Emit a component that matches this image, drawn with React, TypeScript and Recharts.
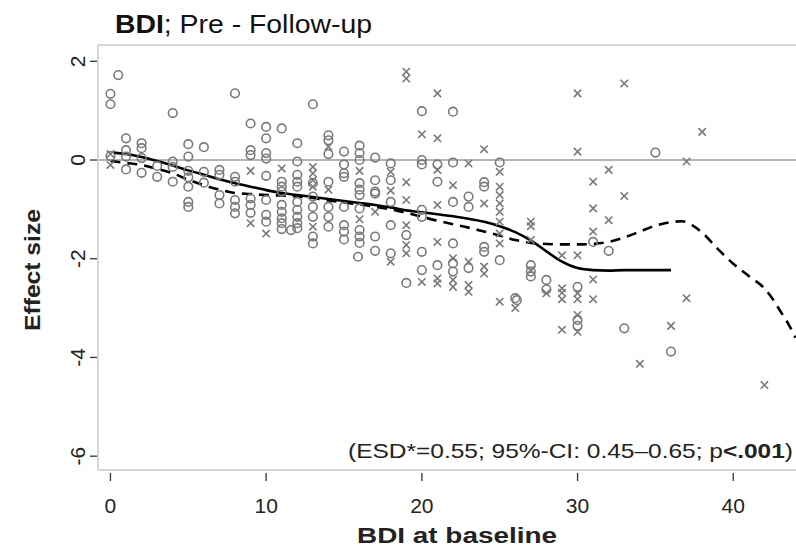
import React from 'react';
import { ComposedChart, XAxis, YAxis, Scatter, Line, ReferenceLine } from 'recharts';

const FONT = '"Liberation Sans", Arial, sans-serif';

const xTicks = [0, 10, 20, 30, 40];
const yTicks = [-6, -4, -2, 0, 2];
const xDomain: [number, number] = [-0.8, 44.03];
const yDomain: [number, number] = [-6.28, 2.33];

const circlePairs: [number, number][] = [
  [0, 1.34], [0, 1.13], [0, 0.08], [0.5, 1.72],
  [1, 0.44], [1, 0.2], [1, 0.07], [1, -0.19],
  [2, 0.34], [2, 0.24], [2, 0.04], [2, -0.26],
  [3, -0.34], [3, -0.12],
  [4, 0.95], [4, -0.03], [4, -0.14], [4, -0.44],
  [5, 0.32], [5, 0.07], [5, -0.22], [5, -0.35], [5, -0.54], [5, -0.85], [5, -0.95],
  [6, 0.26], [6, -0.24], [6, -0.46],
  [7, -0.2], [7, -0.3], [7, -0.71], [7, -0.88],
  [8, 1.35], [8, -0.34], [8, -0.44], [8, -0.81], [8, -0.95], [8, -1.08],
  [9, 0.74], [9, 0.2], [9, 0.1], [9, -0.78], [9, -0.91], [9, -1.07],
  [10, 0.67], [10, 0.44], [10, 0.14], [10, 0.03], [10, -0.32], [10, -0.81], [10, -1.11], [10, -1.25],
  [11, 0.64], [11, -0.44], [11, -0.54], [11, -0.64], [11, -0.91], [11, -1.05], [11, -1.18], [11, -1.28], [11, -1.4], [11.6, -1.42],
  [12, 0.34], [12, -0.03], [12, -0.3], [12, -0.44], [12, -0.54], [12, -0.85], [12, -1.01], [12, -1.15], [12, -1.28], [12, -1.38],
  [13, 1.13], [13, -0.47], [13, -0.74], [13, -0.95], [13, -1.15], [13, -1.55], [13, -1.69],
  [14, 0.5], [14, 0.4], [14, 0.12], [14, -0.44], [14, -0.95], [14, -1.15], [14, -1.35],
  [15, 0.17], [15, -0.09], [15, -0.27], [15, -0.34], [15, -0.95], [15, -1.32], [15, -1.45], [15, -1.61], [15.9, -1.96],
  [16, 0.29], [16, 0.14], [16, 0], [16, -0.47], [16, -0.6], [16, -0.71], [16, -0.98], [16, -1.42], [16, -1.55], [16, -1.68],
  [17, 0.05], [17, -0.41], [17, -0.64], [17, -0.68], [17, -1.55], [17, -1.84],
  [18, -0.07], [18, -0.41], [18, -0.85], [18, -1.32], [18, -1.89],
  [19, -1.52], [19, -2.49],
  [20, 0.99], [20, 0], [20, -0.09], [20, -1.01], [20, -1.15], [20, -1.86], [20, -2.23],
  [21, -0.09], [21, -0.44], [21, -2.13],
  [22, 0.98], [22, -0.05], [22, -0.85], [22, -1.69], [22, -2.09], [22, -2.26],
  [23, -0.74], [23, -0.95], [23, -2.19],
  [24, -0.45], [24, -0.54], [24, -1.76], [24, -1.86],
  [25, -0.05], [25, -2.03],
  [26, -2.8], [26.1, -2.84],
  [27, -2.13], [27, -2.26], [27, -2.36],
  [28, -2.43], [28, -2.62],
  [30, -2.57], [30, -3.24], [30, -3.36],
  [31, -1.66], [32, -1.84], [33, -3.41], [35, 0.15], [36, -3.88],
];

const crossPairs: [number, number][] = [
  [0, 0.12], [0, -0.1],
  [9, -0.22], [9, -1.28],
  [10, -1.49],
  [11, -0.17],
  [13, -0.14], [13, -0.27], [13, -0.41], [13, -0.54], [13, -1.35],
  [14, 0.27], [14, -0.6],
  [16, -0.22], [16, -1.2],
  [17, -1.05],
  [18, -0.24], [18, -0.62], [18, -2.06],
  [19, 1.79], [19, 1.65], [19, -0.45], [19, -0.81], [19, -1.32], [19, -1.72], [19, -1.89],
  [20, 0.52], [20, -2.47],
  [21, 1.35], [21, 0.44], [21, -0.2], [21, -0.91], [21, -1.66], [21, -2.4], [21, -2.5],
  [22, -0.51], [22, -1.99], [22, -2.43], [22, -2.57],
  [23, -0.07], [23, -2.06], [23, -2.53], [23, -2.67],
  [24, 0.22], [24, -0.88], [24, -2.16], [24, -2.3],
  [25, -0.24], [25, -0.54], [25, -0.71], [25, -0.88], [25, -1.05], [25, -1.25], [25, -1.49], [25, -1.69], [25, -2.87],
  [26, -3.0],
  [27, -1.25], [27, -1.34], [27, -1.62], [27, -2.23],
  [28, -2.7],
  [29, -1.93], [29, -2.6], [29, -2.69], [29, -2.82], [29, -3.44],
  [30, 1.35], [30, 0.17], [30, -1.93], [30, -2.7], [30, -2.82], [30, -3.14], [30, -3.48],
  [31, -0.44], [31, -0.98], [31, -1.45], [31, -2.42], [31, -2.82],
  [32, -0.2], [32, -1.22],
  [33, 1.55], [33, -0.73],
  [34, -4.13],
  [36, -3.36],
  [37, -0.03], [37, -2.8],
  [38, 0.57],
  [42, -4.56],
];

const solidPairs: [number, number][] = [
  [0.2, 0.15], [1, 0.12], [2, 0.06], [3, -0.02], [4, -0.11], [5, -0.21], [6, -0.3], [7, -0.39], [8, -0.47],
  [9, -0.54], [10, -0.61], [11, -0.67], [12, -0.71], [13, -0.75], [14, -0.79], [15, -0.83], [16, -0.87],
  [17, -0.91], [18, -0.96], [19, -1.02], [20, -1.06], [21, -1.1], [22, -1.14], [23, -1.19], [24, -1.25],
  [25, -1.34], [26, -1.46], [27, -1.63], [28, -1.85], [29, -2.06], [30, -2.19], [31, -2.23], [32, -2.24],
  [33, -2.23], [34, -2.23], [35, -2.23], [36, -2.23],
];

const dashedPairs: [number, number][] = [
  [0, -0.02], [1, -0.06], [2, -0.1], [3, -0.18], [4, -0.27], [5, -0.4], [6, -0.51], [7, -0.6], [8, -0.67],
  [9, -0.69], [10, -0.71], [11, -0.72], [12, -0.74], [13, -0.77], [14, -0.82], [15, -0.86], [16, -0.9],
  [17, -0.95], [18, -1.0], [19, -1.07], [20, -1.15], [21, -1.23], [22, -1.3], [23, -1.37], [24, -1.45],
  [25, -1.53], [26, -1.62], [27, -1.68], [28, -1.7], [29, -1.71], [30, -1.71], [31, -1.7], [32, -1.66],
  [33, -1.57], [34, -1.45], [35, -1.33], [36, -1.26], [36.7, -1.24], [37.4, -1.33], [38, -1.47], [39, -1.8],
  [40, -2.1], [41, -2.35], [42, -2.6], [42.5, -2.8], [43, -3.05], [43.5, -3.3], [44, -3.6],
];

const toXY = (pairs: [number, number][]) => pairs.map(([x, y]) => ({ x, y }));
const circles = toXY(circlePairs);
const crosses = toXY(crossPairs);
const solid = toXY(solidPairs);
const dashed = toXY(dashedPairs);

const MARK = '#7a7a7a';

const CircleShape = (p: any) => (
  <circle cx={p.cx} cy={p.cy} r={4.3} fill="none" stroke={MARK} strokeWidth={1.6} />
);
const CrossShape = (p: any) => {
  const s = 3.7;
  return (
    <path
      d={`M${p.cx - s},${p.cy - s}L${p.cx + s},${p.cy + s}M${p.cx - s},${p.cy + s}L${p.cx + s},${p.cy - s}`}
      stroke={MARK}
      strokeWidth={1.6}
      fill="none"
    />
  );
};

const XTick = (props: any) => {
  const { x, y, payload } = props;
  return (
    <g>
      <line x1={x} x2={x} y1={y + 3} y2={y + 11} stroke="#333" strokeWidth={1.3} />
      <text x={x} y={y + 43} textAnchor="middle" fontSize={21} fill="#222" fontFamily={FONT}>
        {payload.value}
      </text>
    </g>
  );
};

const YTick = (props: any) => {
  const { x, y, payload } = props;
  const tx = x - 13;
  return (
    <g>
      <line x1={x - 8} x2={x - 1} y1={y} y2={y} stroke="#333" strokeWidth={1.3} />
      <text
        x={tx}
        y={y}
        transform={`rotate(-90 ${tx} ${y})`}
        textAnchor="middle"
        fontSize={21}
        fill="#222"
        fontFamily={FONT}
      >
        {payload.value}
      </text>
    </g>
  );
};

export default function App() {
  return (
    <div style={{ position: 'absolute', left: 0, top: 0, width: 796, height: 548, background: '#fff' }}>
      <ComposedChart width={796} height={548} margin={{ top: 45, right: 0, bottom: 0, left: 0 }}>
        <XAxis
          type="number"
          dataKey="x"
          domain={xDomain}
          ticks={xTicks}
          interval={0}
          allowDataOverflow
          height={78}
          axisLine={{ stroke: '#c8c8c8', strokeWidth: 1.5 }}
          tickLine={false}
          tickSize={0}
          tickMargin={0}
          tick={<XTick />}
        />
        <YAxis
          type="number"
          dataKey="y"
          domain={yDomain}
          ticks={yTicks}
          interval={0}
          allowDataOverflow
          width={98}
          axisLine={{ stroke: '#c8c8c8', strokeWidth: 1.5 }}
          tickLine={false}
          tickSize={0}
          tickMargin={0}
          tick={<YTick />}
        />
        <ReferenceLine y={2.33} stroke="#c8c8c8" strokeWidth={1.5} ifOverflow="extendDomain" />
        <ReferenceLine y={0} stroke="#b4b4b4" strokeWidth={2} />
        <Scatter data={circles} shape={CircleShape} isAnimationActive={false} />
        <Scatter data={crosses} shape={CrossShape} isAnimationActive={false} />
        <Line
          data={solid}
          dataKey="y"
          type="monotone"
          stroke="#000"
          strokeWidth={2.6}
          dot={false}
          activeDot={false}
          isAnimationActive={false}
        />
        <Line
          data={dashed}
          dataKey="y"
          type="monotone"
          stroke="#000"
          strokeWidth={2.6}
          strokeDasharray="10 7"
          dot={false}
          activeDot={false}
          isAnimationActive={false}
        />
      </ComposedChart>
      <svg
        width={796}
        height={548}
        style={{ position: 'absolute', left: 0, top: 0, pointerEvents: 'none' }}
      >
        <text x={115} y={33} fontSize={25} fill="#111" fontFamily={FONT} textLength={257} lengthAdjust="spacingAndGlyphs">
          <tspan fontWeight="bold">BDI</tspan>
          <tspan>; Pre - Follow-up</tspan>
        </text>
        <text x={793} y={458} textAnchor="end" fontSize={21} fill="#222" fontFamily={FONT} textLength={445} lengthAdjust="spacingAndGlyphs">
          <tspan>(ESD*=0.55; 95%-CI: 0.45–0.65; p</tspan>
          <tspan fontWeight="bold">&lt;.001</tspan>
          <tspan>)</tspan>
        </text>
        <text x={457} y={543} textAnchor="middle" fontSize={22} fontWeight="bold" fill="#222" fontFamily={FONT} textLength={200} lengthAdjust="spacingAndGlyphs">
          BDI at baseline
        </text>
        <text
          x={40}
          y={270}
          transform="rotate(-90 40 270)"
          textAnchor="middle"
          fontSize={22}
          fontWeight="bold"
          fill="#222"
          fontFamily={FONT}
          textLength={122}
          lengthAdjust="spacingAndGlyphs"
        >
          Effect size
        </text>
      </svg>
    </div>
  );
}
